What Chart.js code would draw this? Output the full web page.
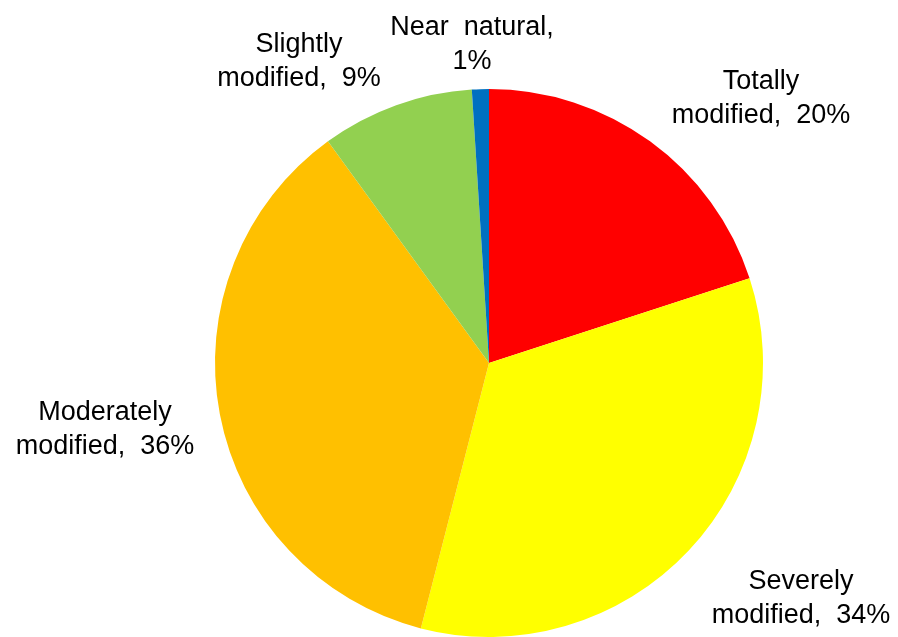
<!DOCTYPE html>
<html>
<head>
<meta charset="utf-8">
<script src="https://cdn.jsdelivr.net/npm/chart.js@4"></script>
<style>
html,body{margin:0;padding:0;background:#fff;}
#wrap{width:898px;height:637px;position:relative;}
</style>
</head>
<body>
<div id="wrap"><canvas id="c" width="898" height="637"></canvas></div>
<script>
const categories = ["Totally modified", "Severely modified", "Moderately modified", "Slightly modified", "Near natural"];
const values = [20, 34, 36, 9, 1];
const labelLines = [
  ["Totally", "modified,  20%"],
  ["Severely", "modified,  34%"],
  ["Moderately", "modified,  36%"],
  ["Slightly", "modified,  9%"],
  ["Near  natural,", "1%"]
];
const colors = ["#FF0000", "#FFFF00", "#FFC000", "#92D050", "#0070C0"];

// label anchor offsets from the pie centre (px): [dx of text centre, dy of first baseline]
const labelOffsets = [
  [272, -274],
  [312, 226],
  [-384, 57],
  [-190, -311],
  [-17, -328]
];

const labelPlugin = {
  id: 'pieLabels',
  afterDatasetsDraw(chart) {
    const ctx = chart.ctx;
    const meta = chart.getDatasetMeta(0);
    ctx.save();
    ctx.font = '27px "Liberation Sans", Arial, sans-serif';
    ctx.fillStyle = '#000';
    ctx.textAlign = 'center';
    ctx.textBaseline = 'alphabetic';
    meta.data.forEach((arc, i) => {
      const cx = arc.x, cy = arc.y;
      const [dx, dy] = labelOffsets[i];
      labelLines[i].forEach((line, j) => {
        ctx.fillText(line, cx + dx, cy + dy + j * 34);
      });
    });
    ctx.restore();
  }
};

new Chart(document.getElementById('c'), {
  type: 'pie',
  data: {
    labels: categories,
    datasets: [{
      data: values,
      backgroundColor: colors,
      borderWidth: 0,
      hoverOffset: 0
    }]
  },
  options: {
    responsive: false,
    animation: false,
    layout: { padding: { left: 80, right: 0, top: 89, bottom: 0 } },
    plugins: { legend: { display: false }, tooltip: { enabled: false } }
  },
  plugins: [labelPlugin]
});
</script>
</body>
</html>
